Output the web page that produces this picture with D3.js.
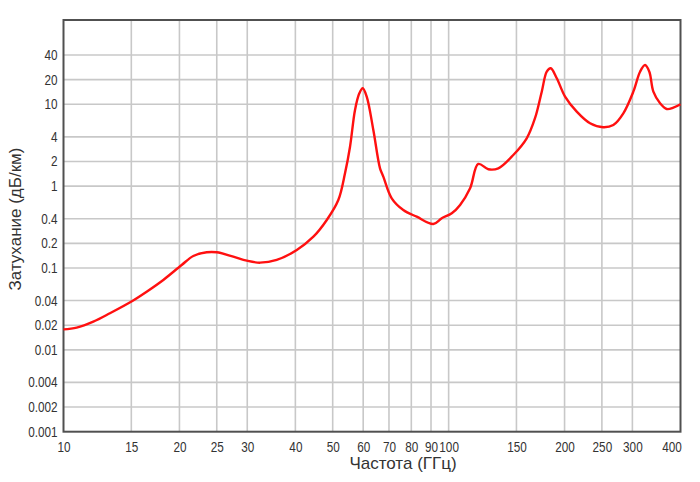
<!DOCTYPE html>
<html><head><meta charset="utf-8">
<script src="https://cdn.jsdelivr.net/npm/d3@7"></script>
<style>
body{margin:0;background:#fff;}
svg text{font-family:"Liberation Sans",Arial,sans-serif;}
</style></head>
<body><svg id="c" width="700" height="482"></svg>
<script>
const freq = [10, 10.82, 11.95, 13.2, 15.09, 16.44, 18.16, 20.27, 21.73, 23.54, 25.0, 27.6, 29.91, 32.38,
  35.78, 40.34, 44.55, 48.26, 51.71, 53.82, 55.46, 57.14, 58.63, 59.83, 61.28, 63.75, 66.35,
  67.67, 71.16, 76.26, 82.64, 91.25, 95.96, 101.9, 107.1, 113.7, 119.4, 126.8, 134.6,
  147.2, 159.5, 167.6, 174.5, 179.8, 184.1, 190.9, 200.6, 215.1, 232.9, 252.1, 267.7, 284.2,
  301.7, 314.1, 323.6, 332.0, 340.1, 354.0, 368.5, 383.3, 400];
const atten = [0.0178, 0.0187, 0.0221, 0.028, 0.0395, 0.0513, 0.0714, 0.1088, 0.140, 0.1555, 0.1555, 0.1374, 0.1228, 0.1161,
  0.1253, 0.166, 0.241, 0.386, 0.677, 1.436, 3.03, 8.52, 13.6, 15.7, 12.4, 4.85, 1.65,
  1.305, 0.71, 0.511, 0.423, 0.345, 0.405, 0.466, 0.589, 0.941, 1.865, 1.607, 1.652,
  2.40, 3.84, 6.75, 14.25, 25.0, 27.5, 20.8, 12.4, 8.12, 5.86, 5.24, 5.59, 7.76,
  14.25, 25.0, 30.2, 25.0, 14.25, 10.28, 8.76, 9.09, 10.0];
const xTicks = [10, 15, 20, 25, 30, 40, 50, 60, 70, 80, 90, 100, 150, 200, 250, 300, 400];
const yTicks = [0.001, 0.002, 0.004, 0.01, 0.02, 0.04, 0.1, 0.2, 0.4, 1, 2, 4, 10, 20, 40];
const xTitle = "Частота (ГГц)";
const yTitle = "Затухание (дБ/км)";

const svg = d3.select("#c");
const L = 63.5, R = 680.5, T = 20, B = 431.7;
const x = d3.scaleLog().domain([10, 400]).range([L, R]);
const y = d3.scaleLog().domain([0.001, 107]).range([B, T]);

// grid
svg.append("g").selectAll("line").data(xTicks.filter(d => d > 10 && d < 400)).join("line")
  .attr("x1", d => x(d)).attr("x2", d => x(d)).attr("y1", T).attr("y2", B)
  .attr("stroke", "#c8c8c8").attr("stroke-width", 1.6);
svg.append("g").selectAll("line").data(yTicks.filter(d => d > 0.001)).join("line")
  .attr("x1", L).attr("x2", R).attr("y1", d => y(d)).attr("y2", d => y(d))
  .attr("stroke", "#c8c8c8").attr("stroke-width", 1.6);

// frame
svg.append("rect").attr("x", L).attr("y", T).attr("width", R - L).attr("height", B - T)
  .attr("fill", "none").attr("stroke", "#505050").attr("stroke-width", 2);

// axes labels
const xAxis = d3.axisBottom(x).tickValues(xTicks).tickFormat(d => String(d)).tickSize(0).tickPadding(10);
const gx = svg.append("g").attr("transform", `translate(0,${B})`).call(xAxis);
gx.select(".domain").remove();
gx.selectAll("text").attr("font-size", 14).attr("fill", "#333")
  .attr("font-family", "Liberation Sans, Arial, sans-serif")
  .attr("text-anchor", d => d === 400 ? "end" : "middle")
  .attr("x", d => d === 400 ? 1 : 0)
  .attr("transform", "scale(0.84,1)");

const yAxis = d3.axisLeft(y).tickValues(yTicks).tickFormat(d => String(d)).tickSize(0).tickPadding(7);
const gy = svg.append("g").attr("transform", `translate(${L},0)`).call(yAxis);
gy.select(".domain").remove();
gy.selectAll("text").attr("font-size", 14).attr("fill", "#333")
  .attr("font-family", "Liberation Sans, Arial, sans-serif")
  .attr("transform", "scale(0.84,1)");

// curve
const line = d3.line().x((d, i) => x(freq[i])).y((d, i) => y(atten[i])).curve(d3.curveCatmullRom.alpha(0.5));
svg.append("path").datum(atten).attr("d", line).attr("fill", "none")
  .attr("stroke", "#ff1010").attr("stroke-width", 2.4).attr("stroke-linejoin", "round");

// titles
svg.append("text").attr("x", 403).attr("y", 469).attr("text-anchor", "middle")
  .attr("font-size", 17).attr("fill", "#333").text(xTitle);
svg.append("text").attr("transform", "translate(21,219) rotate(-90)").attr("text-anchor", "middle")
  .attr("font-size", 17).attr("fill", "#333").text(yTitle);
</script></body></html>
